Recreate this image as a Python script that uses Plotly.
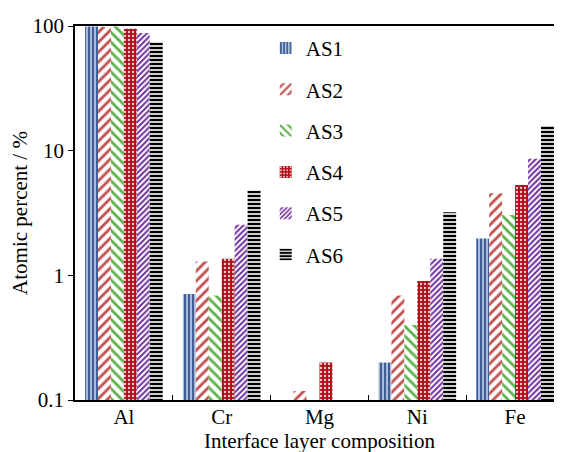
import plotly.graph_objects as go

categories = ["Al", "Cr", "Mg", "Ni", "Fe"]
series_names = ["AS1", "AS2", "AS3", "AS4", "AS5", "AS6"]
as1 = [99, 0.71, None, 0.20, 1.97]
as2 = [98, 1.29, 0.118, 0.69, 4.55]
as3 = [99, 0.69, None, 0.40, 3.05]
as4 = [95, 1.36, 0.20, 0.90, 5.3]
as5 = [88, 2.54, None, 1.36, 8.6]
as6 = [74, 4.8, None, 3.2, 15.8]
values = [as1, as2, as3, as4, as5, as6]
y_tickvals = [0.1, 1, 10, 100]
y_ticktext = ["0.1", "1", "10", "100"]

patterns = [
    dict(shape="|", fgcolor="#3f5f96", bgcolor="#a8bcd8", size=4, solidity=0.5),
    dict(shape="/", fgcolor="#c0504d", bgcolor="white", size=7, solidity=0.4),
    dict(shape="\\", fgcolor="#5cb04a", bgcolor="white", size=7, solidity=0.4),
    dict(shape=".", fgcolor="#f4d4d4", bgcolor="#b0101a", size=4, solidity=0.25),
    dict(shape="/", fgcolor="#7030a0", bgcolor="white", size=4, solidity=0.5),
    dict(shape="-", fgcolor="black", bgcolor="white", size=4, solidity=0.6),
]

font = "Liberation Serif"
fs = 21
fig = go.Figure()
for name, vals, pat in zip(series_names, values, patterns):
    fig.add_trace(go.Bar(
        x=categories, y=vals, name=name, legendgroup=name,
        marker=dict(color=pat["bgcolor"], line=dict(width=0),
                    pattern=dict(shape=pat["shape"], fgcolor=pat["fgcolor"],
                                 bgcolor=pat["bgcolor"], size=pat["size"],
                                 solidity=pat["solidity"], fillmode="overlay",
                                 fgopacity=1)),
    ))

fig.update_layout(
    width=562, height=452,
    margin=dict(l=64, r=6, t=13, b=60),
    paper_bgcolor="white", plot_bgcolor="white",
    barmode="group", bargap=0.206, bargroupgap=0,
    font=dict(family=font, size=fs, color="black"),
    showlegend=True,
    legend=dict(x=0.39, y=0.995, xanchor="left", yanchor="top",
                traceorder="grouped", tracegroupgap=11,
                bgcolor="rgba(0,0,0,0)", font=dict(size=fs, family=font)),
    xaxis=dict(
        range=[-0.5, 4.5], showline=True, linecolor="black", linewidth=1.5,
        mirror=True, ticks="inside", ticklen=5, tickson="boundaries",
        tickcolor="black", showgrid=False, ticklabelstandoff=-3,
        title=dict(text="Interface layer composition", standoff=0,
                   font=dict(size=fs, family=font)),
        tickfont=dict(size=fs, family=font),
    ),
    yaxis=dict(
        type="log", range=[-1, 2], showline=True, linecolor="black", linewidth=1.5,
        ticks="outside", ticklen=5, tickcolor="black", showgrid=False,
        tickvals=y_tickvals, ticktext=y_ticktext, zeroline=False,
        title=dict(text="Atomic percent / %", standoff=4,
                   font=dict(size=fs, family=font)),
        tickfont=dict(size=fs, family=font),
    ),
)

fig.write_html("out.html")
